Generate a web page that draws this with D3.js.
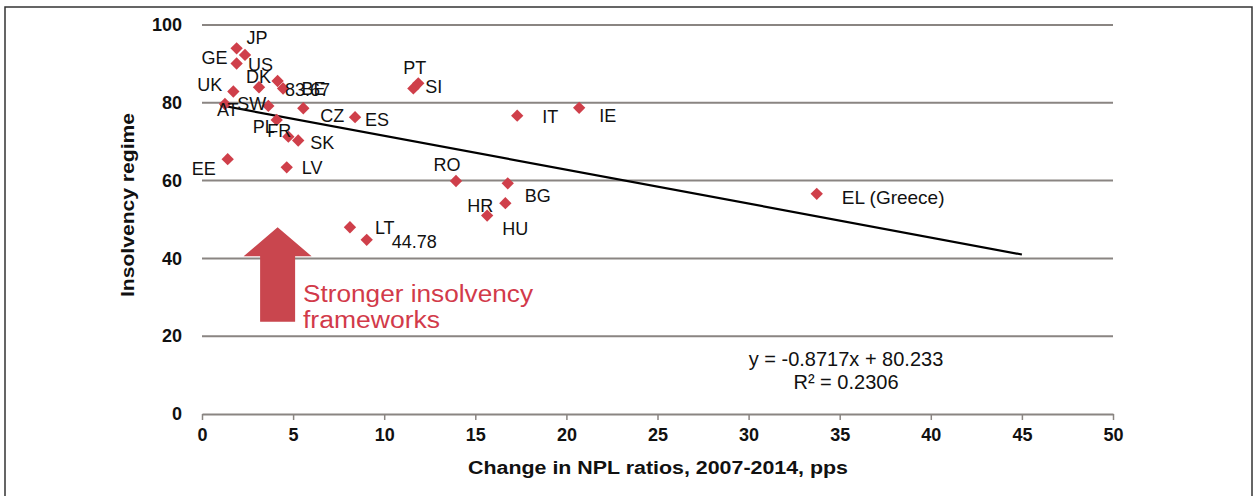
<!DOCTYPE html>
<html>
<head>
<meta charset="utf-8">
<script src="https://cdn.jsdelivr.net/npm/d3@7"></script>
<style>
  body { margin: 0; background: #fff; }
  svg { display: block; font-family: "Liberation Sans", Arial, sans-serif; }
</style>
</head>
<body>
<div id="chart"></div>
<script>
// ---------- DATA ----------
const labels = ['JP', 'US', 'GE', 'DK', 'BE', '83.67', 'UK', 'AT', 'SW', 'CZ', 'ES', 'PL', 'FR', 'SK',
  'EE', 'LV', 'LT', '44.78', 'PT', 'SI', 'IT', 'IE', 'RO', 'BG', 'HR', 'HU', 'EL (Greece)'];
const nplChange = [1.9, 2.36, 1.9, 3.13, 4.15, 4.45, 1.72, 1.26, 3.64, 5.56, 8.4, 4.1, 4.74, 5.28,
  1.41, 4.65, 8.12, 9.04, 11.6, 11.87, 17.3, 20.7, 13.94, 16.78, 16.65, 15.65, 33.74];
const insolvency = [94.0, 92.3, 90.1, 84.0, 85.6, 83.67, 82.9, 79.7, 79.2, 78.6, 76.3, 75.6, 71.3, 70.3,
  65.5, 63.4, 48.0, 44.78, 83.7, 85.0, 76.7, 78.7, 59.9, 59.3, 54.2, 51.0, 56.6];

const xTicks = [0, 5, 10, 15, 20, 25, 30, 35, 40, 45, 50];
const yTicks = [0, 20, 40, 60, 80, 100];

const trendSlope = -0.8717;
const trendIntercept = 80.233;
const trendFrom = 1.0;
const trendTo = 45;
const trendText = ['y = -0.8717x + 80.233', 'R\u00b2 = 0.2306'];
const arrowFrom = 23.7; // value units (y) where arrow starts
const arrowTo = 48;     // arrow tip
const arrowAt = 4.15;   // x position of arrow
const noteText = ['Stronger insolvency', 'frameworks'];

// label placement: [dx, dy, anchor]
const labelPos = {
  'JP': [10, -11, 'start'], 'US': [3, 10, 'start'], 'GE': [-9, -6, 'end'], 'DK': [-13, -11, 'start'],
  'BE': [24, 8, 'start'], '83.67': [2, 1, 'start'], 'UK': [-11, -7, 'end'], 'AT': [-8, 6, 'start'],
  'SW': [-31, -2, 'start'], 'CZ': [17, 7, 'start'], 'ES': [10, 2, 'start'], 'PL': [-24, 7, 'start'],
  'FR': [-21, -6, 'start'], 'SK': [12, 2, 'start'], 'EE': [-12, 9, 'end'], 'LV': [15, 0, 'start'],
  'LT': [25, 0, 'start'], '44.78': [25, 2, 'start'], 'PT': [-10, -21, 'start'], 'SI': [7, 3, 'start'],
  'IT': [25, 1, 'start'], 'IE': [20, 8, 'start'], 'RO': [-9, -16, 'middle'], 'BG': [17, 12, 'start'],
  'HR': [-12, 2, 'end'], 'HU': [15, 13, 'start'], 'EL (Greece)': [25, 3, 'start']
};

// ---------- SETUP ----------
const width = 1256, height = 496;
const margin = { left: 202, right: 143, top: 25, bottom: 82 };
const red = '#cf3f4a';

const svg = d3.select('#chart').append('svg')
  .attr('width', width)
  .attr('height', height);

svg.append('rect')
  .attr('x', 5).attr('y', 7)
  .attr('width', 1247).attr('height', 500)
  .attr('fill', '#fff')
  .attr('stroke', '#333')
  .attr('stroke-width', 1.5);

const x = d3.scaleLinear().domain([0, 50]).range([margin.left, width - margin.right]);
const y = d3.scaleLinear().domain([0, 100]).range([height - margin.bottom, margin.top]);

// gridlines
svg.append('g')
  .selectAll('line')
  .data(yTicks.filter((d) => d > 0))
  .enter()
  .append('line')
  .attr('x1', x(0)).attr('x2', x(50))
  .attr('y1', (d) => y(d)).attr('y2', (d) => y(d))
  .attr('stroke', '#8a8582')
  .attr('stroke-width', 2);

// x axis
const xAxis = svg.append('g')
  .attr('transform', `translate(0, ${y(0)})`)
  .call(d3.axisBottom(x).tickValues(xTicks).tickSize(6).tickSizeOuter(0).tickPadding(8));
xAxis.select('.domain').attr('stroke', '#8a8582').attr('stroke-width', 2);
xAxis.selectAll('.tick line').attr('stroke', '#8a8582').attr('stroke-width', 1.5);
xAxis.selectAll('.tick text')
  .style('font-size', '18px')
  .style('font-weight', 'bold')
  .attr('fill', '#111');

// y axis (labels only)
const yAxis = svg.append('g')
  .attr('transform', `translate(${x(0)}, 0)`)
  .call(d3.axisLeft(y).tickValues(yTicks).tickSize(0).tickPadding(20));
yAxis.select('.domain').remove();
yAxis.selectAll('.tick text')
  .style('font-size', '18px')
  .style('font-weight', 'bold')
  .attr('fill', '#111');

// axis titles
svg.append('text')
  .attr('x', 468)
  .attr('y', 474)
  .attr('textLength', 380)
  .attr('lengthAdjust', 'spacingAndGlyphs')
  .style('font-size', '18px')
  .style('font-weight', 'bold')
  .attr('fill', '#111')
  .text('Change in NPL ratios, 2007-2014, pps');

svg.append('text')
  .attr('transform', `translate(134, 297) rotate(-90)`)
  .attr('textLength', 184)
  .attr('lengthAdjust', 'spacingAndGlyphs')
  .style('font-size', '18px')
  .style('font-weight', 'bold')
  .attr('fill', '#111')
  .text('Insolvency regime');

// arrow annotation
const ax = x(arrowAt), yTip = y(arrowTo), yBase = y(arrowFrom);
const headH = 29, headW = 34, shaftW = 17.5;
svg.append('path')
  .attr('d', `M${ax},${yTip} L${ax + headW},${yTip + headH} L${ax + shaftW},${yTip + headH}
    L${ax + shaftW},${yBase} L${ax - shaftW},${yBase} L${ax - shaftW},${yTip + headH}
    L${ax - headW},${yTip + headH} Z`)
  .attr('fill', '#c9464e');

const noteLen = [230, 137];
svg.append('g')
  .selectAll('text')
  .data(noteText)
  .enter()
  .append('text')
  .attr('x', 303)
  .attr('y', (d, i) => 302 + i * 26)
  .attr('textLength', (d, i) => noteLen[i])
  .attr('lengthAdjust', 'spacingAndGlyphs')
  .style('font-size', '23px')
  .attr('fill', '#d23a4a')
  .text((d) => d);

// trend line
const line = d3.line().x((d) => x(d)).y((d) => y(trendSlope * d + trendIntercept));
svg.append('path')
  .attr('d', line([trendFrom, trendTo]))
  .attr('fill', 'none')
  .attr('stroke', '#000')
  .attr('stroke-width', 2.2);

// equation
svg.append('g')
  .selectAll('text')
  .data(trendText)
  .enter()
  .append('text')
  .attr('x', 846)
  .attr('y', (d, i) => 366 + i * 23)
  .attr('text-anchor', 'middle')
  .style('font-size', '20px')
  .attr('fill', '#111')
  .text((d) => d);

// points
const points = labels.map((l, i) => ({ label: l, x: nplChange[i], y: insolvency[i] }));
const diamond = d3.symbol().type(d3.symbolSquare).size(76);

svg.append('g')
  .selectAll('path')
  .data(points)
  .enter()
  .append('path')
  .attr('d', diamond)
  .attr('transform', (d) => `translate(${x(d.x)}, ${y(d.y)}) rotate(45)`)
  .attr('fill', red);

svg.append('g')
  .selectAll('text')
  .data(points)
  .enter()
  .append('text')
  .attr('x', (d) => x(d.x) + labelPos[d.label][0])
  .attr('y', (d) => y(d.y) + labelPos[d.label][1])
  .attr('dy', '0.36em')
  .attr('text-anchor', (d) => labelPos[d.label][2])
  .style('font-size', (d) => (d.label === 'EL (Greece)' ? '19px' : '18px'))
  .attr('fill', '#111')
  .text((d) => d.label);
</script>
</body>
</html>
